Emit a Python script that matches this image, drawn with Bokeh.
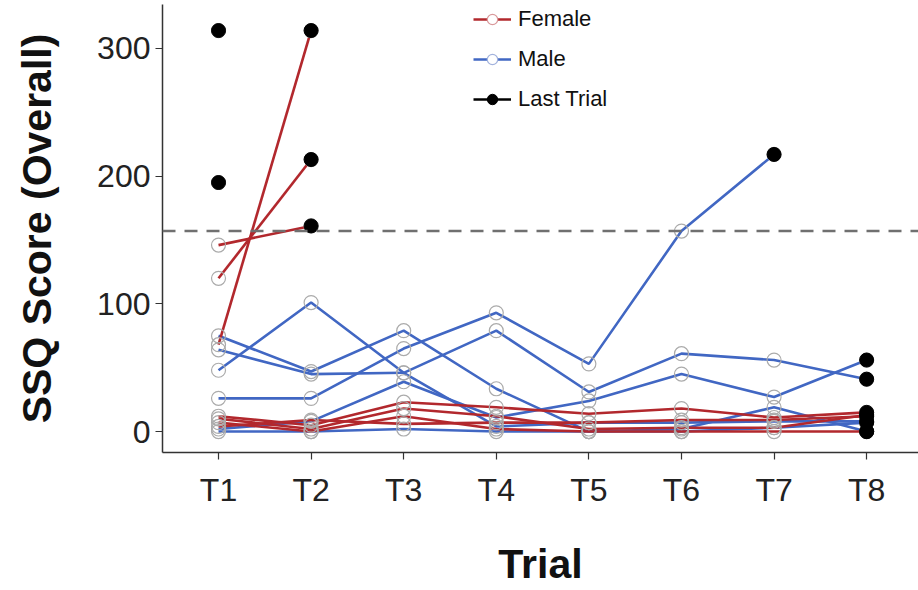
from bokeh.plotting import figure
from bokeh.models import Range1d, FixedTicker, Span, Legend, LegendItem
from bokeh.embed import file_html
from bokeh.resources import INLINE

trials = ["T1", "T2", "T3", "T4", "T5", "T6", "T7", "T8"]
y_ticks = [0, 100, 200, 300]
threshold = 157

# Female participants (SSQ overall score per trial, stops at last trial)
f1 = [68, 314]
f2 = [146, 161]
f3 = [120, 213]
f4 = [12, 5, 23, 19, 14, 18, 11, 15]
f5 = [10, 2, 18, 12, 2, 3, 3, 13]
f6 = [7, 0, 12, 2, 0, 0, 0, 0]
f7 = [4, 9, 6, 7, 7, 9, 9, 12]

# Male participants
m1 = [26, 26, 65, 93, 53, 157, 217]
m2 = [64, 45, 46, 79, 31, 61, 56, 41]
m3 = [75, 47, 79, 33.5, 0, 2, 19, 0]
m4 = [48, 101, 46, 4, 7, 7, 8, 8]
m5 = [2, 8, 39, 11, 24, 45, 27, 56]
m6 = [0, 0, 2, 0, 0, 0, 3, 7]

# Participants who stopped after the first trial
s1 = [314]
s2 = [195]

females = [f1, f2, f3, f4, f5, f6, f7]
males = [m1, m2, m3, m4, m5, m6]
singles = [s1, s2]

RED = "#B2282D"
BLUE = "#4167C3"
FONT = "Liberation Sans"
LW = 2.6

p = figure(width=918, height=590, output_backend="svg", toolbar_location=None,
           x_range=Range1d(0.395, 8.56), y_range=Range1d(-16.4, 334.4),
           min_border_left=162, min_border_right=0, min_border_top=4,
           min_border_bottom=138)
p.outline_line_color = None
p.xgrid.visible = False
p.ygrid.visible = False
p.background_fill_color = "white"
p.border_fill_color = "white"

xs_idx = list(range(1, len(trials) + 1))

def xs_for(vals):
    return xs_idx[:len(vals)]

p.add_layout(Span(location=threshold, dimension="width", line_color="#707070",
                  line_width=2.5, line_dash="13 9"))

p.multi_line([xs_for(v) for v in males], males, line_color=BLUE, line_width=LW)
p.multi_line([xs_for(v) for v in females], females, line_color=RED, line_width=LW)

all_subj = females + males + singles
cx, cy = [], []
for v in all_subj:
    cx += xs_for(v)
    cy += v
p.scatter(cx, cy, marker="circle", size=14, fill_color=None,
          line_color="#ababab", line_width=1.2)

lx = [len(v) for v in all_subj]
ly = [v[-1] for v in all_subj]
p.scatter(lx, ly, marker="circle", size=14, fill_color="black", line_color="black")

# legend-only renderers (placed outside the visible ranges)
off_x = [-5, -4]
off_y = [-500, -500]
fl = p.line(off_x, off_y, line_color=RED, line_width=LW)
fc = p.scatter(off_x[:1], off_y[:1], marker="circle", size=14, fill_color="white",
               line_color="#d99a9c", line_width=1.2)
ml = p.line(off_x, off_y, line_color=BLUE, line_width=LW)
mc = p.scatter(off_x[:1], off_y[:1], marker="circle", size=14, fill_color="white",
               line_color="#a3b3dd", line_width=1.2)
ll = p.line(off_x, off_y, line_color="black", line_width=LW)
lc = p.scatter(off_x[:1], off_y[:1], marker="circle", size=14, fill_color="black",
               line_color="black")

legend = Legend(items=[LegendItem(label="Female", renderers=[fl, fc]),
                       LegendItem(label="Male", renderers=[ml, mc]),
                       LegendItem(label="Last Trial", renderers=[ll, lc])],
                location=(311, 340), glyph_width=38, glyph_height=26,
                label_height=26, spacing=14, padding=0, margin=0,
                label_standoff=7, label_text_font=FONT,
                label_text_font_size="22px", label_text_color="#111",
                border_line_alpha=0, background_fill_alpha=0)
p.add_layout(legend)

xa = p.xaxis[0]
xa.ticker = FixedTicker(ticks=xs_idx)
xa.major_label_overrides = {i: t for i, t in zip(xs_idx, trials)}
xa.axis_label = "Trial"
ya = p.yaxis[0]
ya.ticker = FixedTicker(ticks=y_ticks)
ya.axis_label = "SSQ Score (Overall)"

for ax in (xa, ya):
    ax.axis_line_color = "#333333"
    ax.axis_line_width = 1.5
    ax.major_tick_line_color = "#333333"
    ax.major_tick_line_width = 1.2
    ax.major_tick_out = 7
    ax.major_tick_in = 0
    ax.minor_tick_line_color = None
    ax.major_label_text_font = FONT
    ax.major_label_text_font_size = "32px"
    ax.major_label_text_color = "#222222"
    ax.axis_label_text_font = FONT
    ax.axis_label_text_font_style = "bold"
    ax.axis_label_text_font_size = "41px"
    ax.axis_label_text_color = "#111111"

xa.major_label_standoff = 12
xa.axis_label_standoff = 30
ya.major_label_standoff = 5
ya.axis_label_standoff = 34

open("out.html", "w").write(file_html(p, INLINE))
